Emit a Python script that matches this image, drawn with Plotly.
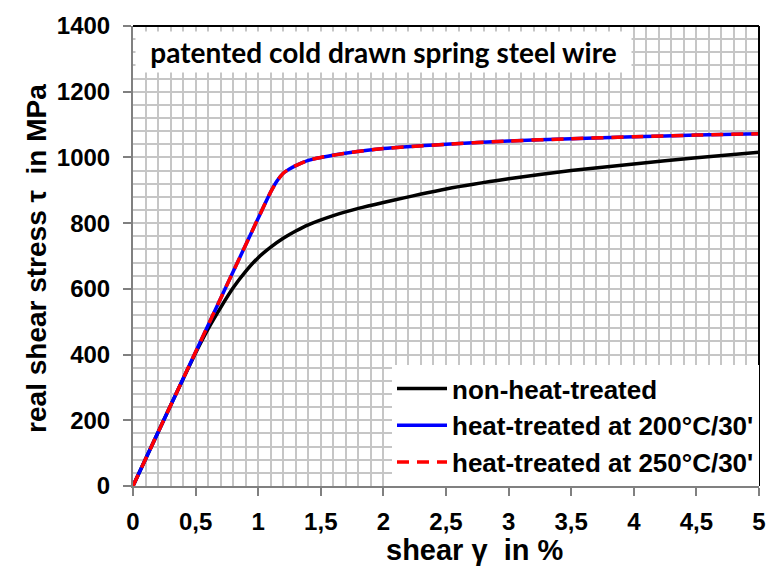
import plotly.graph_objects as go

# Shear strain (%) and real shear stress (MPa)
gamma_ht = [0, 0.5, 1.0, 1.1, 1.15, 1.2, 1.25, 1.3, 1.4, 1.5, 1.75, 2.0, 2.5, 3.0, 3.5, 4.0, 4.5, 5.0]
tau_200 = [0, 408, 815, 895, 928, 952, 965, 975, 991, 1000, 1016, 1027, 1040, 1050, 1057, 1063, 1068, 1072]
tau_250 = [0, 408, 815, 895, 928, 952, 965, 975, 991, 1000, 1016, 1027, 1040, 1050, 1057, 1063, 1068, 1072]

gamma_raw = [0, 0.3, 0.5, 0.6, 0.7, 0.8, 0.9, 1.0, 1.1, 1.2, 1.3, 1.4, 1.6, 1.8, 2.0, 2.5, 3.0, 3.5, 4.0, 4.5, 5.0]
tau_raw = [0, 245, 405, 478, 543, 603, 653, 695, 727, 754, 776, 795, 823, 845, 863, 904, 935, 960, 980, 999, 1016]

x_ticks = [0, 0.5, 1, 1.5, 2, 2.5, 3, 3.5, 4, 4.5, 5]
x_labels = ["0", "0,5", "1", "1,5", "2", "2,5", "3", "3,5", "4", "4,5", "5"]
y_ticks = [0, 200, 400, 600, 800, 1000, 1200, 1400]
y_labels = ["0", "200", "400", "600", "800", "1000", "1200", "1400"]

names = ["non-heat-treated", "heat-treated at 200°C/30'", "heat-treated at 250°C/30'"]

AX_FONT = "Liberation Sans, Arial, sans-serif"
GRID = "#c6c6c6"

fig = go.Figure()
fig.add_trace(go.Scatter(x=gamma_raw, y=tau_raw, mode="lines", name=names[0],
                         legendgroup="a",
                         line=dict(color="black", width=3.5, shape="spline", smoothing=0.6)))
fig.add_trace(go.Scatter(x=gamma_ht, y=tau_200, mode="lines", name=names[1],
                         legendgroup="b",
                         line=dict(color="#0000ff", width=3.5, shape="spline", smoothing=0.6)))
fig.add_trace(go.Scatter(x=gamma_ht, y=tau_250, mode="lines", name=names[2],
                         legendgroup="c",
                         line=dict(color="#ff0000", width=3.5, dash="12px,8px",
                                   shape="spline", smoothing=0.6)))

fig.update_layout(
    width=778, height=576,
    margin=dict(l=133, r=13, t=20, b=90),
    plot_bgcolor="white", paper_bgcolor="white",
    font=dict(family=AX_FONT, color="black"),
    showlegend=True,
    legend=dict(
        x=1, y=0, xanchor="right", yanchor="bottom",
        bgcolor="white", borderwidth=0,
        font=dict(family=AX_FONT, size=26, color="black", weight="bold"),
        tracegroupgap=0, itemwidth=50,
    ),
    xaxis=dict(
        range=[0, 5], tickvals=x_ticks, ticktext=x_labels,
        showgrid=True, gridcolor=GRID, gridwidth=2,
        minor=dict(dtick=0.1, showgrid=True, gridcolor=GRID, gridwidth=2),
        showline=True, linecolor="#808080", linewidth=2,
        ticks="outside", ticklen=8, tickcolor="#808080", tickwidth=2,
        ticklabelstandoff=5,
        tickfont=dict(family=AX_FONT, size=24, weight="bold"),
        zeroline=False,
    ),
    yaxis=dict(
        range=[0, 1400], tickvals=y_ticks, ticktext=y_labels,
        showgrid=True, gridcolor=GRID, gridwidth=2,
        minor=dict(dtick=40, showgrid=True, gridcolor=GRID, gridwidth=2),
        showline=True, linecolor="#808080", linewidth=2,
        ticks="outside", ticklen=8, tickcolor="#808080", tickwidth=2,
        ticklabelstandoff=8,
        tickfont=dict(family=AX_FONT, size=24, weight="bold"),
        zeroline=False,
    ),
)

# Axis titles
fig.add_annotation(
    xref="paper", yref="paper", x=(478 - 133) / 632, y=-(551 - 486) / 466,
    xanchor="center", yanchor="middle", showarrow=False,
    text="<b>shear γ  in %</b>",
    font=dict(family=AX_FONT, size=29, color="black"),
)
fig.add_annotation(
    xref="paper", yref="paper", x=-(133 - 36) / 632, y=(486 - 255) / 466,
    xanchor="center", yanchor="middle", showarrow=False, textangle=-90,
    text="<b>real shear stress τ  in MPa</b>",
    font=dict(family=AX_FONT, size=28, color="black"),
)

# Black frame on the top and right edges of the plotting area
fig.add_shape(type="line", xref="paper", yref="paper", x0=0, x1=1, y0=1, y1=1,
              line=dict(color="black", width=2))
fig.add_shape(type="line", xref="paper", yref="paper", x0=1, x1=1, y0=0, y1=1,
              line=dict(color="black", width=2))

# Chart caption in a white box
fig.add_annotation(
    xref="paper", yref="paper", x=0.003, y=0.989, xanchor="left", yanchor="top",
    text="<b>patented cold drawn spring steel wire</b>", showarrow=False,
    bgcolor="white", width=493, height=38, align="center", valign="middle",
    font=dict(family="Lato, Open Sans, sans-serif", size=28, color="black"),
)

fig.write_html("out.html")
